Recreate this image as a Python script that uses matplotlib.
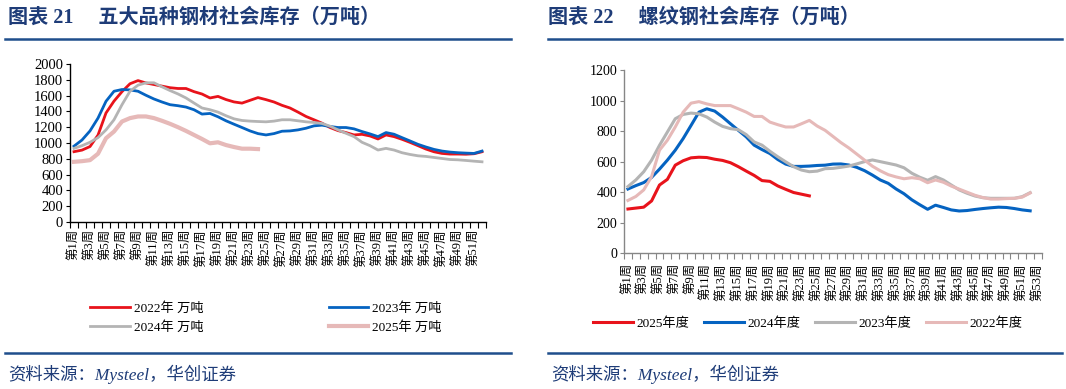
import numpy as np
import matplotlib.pyplot as plt
from matplotlib.lines import Line2D

plt.rcParams['font.family'] = ['Liberation Serif', 'Noto Sans CJK SC']

# ---- data: 五大品种钢材社会库存 (万吨), weekly
weeks_left = [f'第{i}周' for i in range(1, 53)]
steel_2022 = [890, 910, 955, 1100, 1380, 1530, 1650, 1750, 1790, 1760,
              1740, 1720, 1700, 1690, 1690, 1650, 1620, 1570, 1590, 1550,
              1520, 1505, 1540, 1575, 1549, 1519, 1477, 1443, 1391, 1336,
              1294, 1251, 1196, 1157, 1132, 1102, 1110, 1089, 1051, 1102,
              1081, 1047, 1008, 966, 923, 889, 868, 860, 860, 858, 864, 889]
steel_2023 = [960, 1038, 1153, 1315, 1528, 1655, 1677, 1672, 1655, 1604,
              1557, 1519, 1485, 1472, 1455, 1421, 1366, 1374, 1332, 1281,
              1238, 1196, 1153, 1119, 1102, 1119, 1149, 1153, 1166, 1187,
              1217, 1226, 1209, 1196, 1196, 1179, 1145, 1115, 1081, 1132,
              1111, 1068, 1026, 983, 949, 919, 898, 885, 877, 872, 868, 898]
steel_2024 = [932, 966, 1009, 1068, 1166, 1294, 1485, 1655, 1732, 1762,
              1762, 1711, 1664, 1621, 1570, 1506, 1443, 1421, 1391, 1345,
              1306, 1285, 1277, 1272, 1268, 1277, 1294, 1294, 1281, 1268,
              1260, 1247, 1213, 1166, 1123, 1081, 1009, 966, 911, 932,
              911, 877, 855, 838, 830, 817, 804, 791, 787, 779, 770, 762]
steel_2025 = [762, 770, 783, 864, 1060, 1145, 1272, 1315, 1336, 1336,
              1315, 1281, 1243, 1200, 1153, 1102, 1051, 996, 1009, 974,
              949, 928, 928, 923]

# ---- data: 螺纹钢社会库存 (万吨), weekly
weeks_right = [f'第{i}周' for i in range(1, 54)]
rebar_2025 = [290, 296, 302, 343, 447, 484, 577, 606, 625, 629,
              627, 616, 608, 593, 567, 538, 510, 476, 471, 441,
              419, 398, 387, 376]
rebar_2024 = [421, 443, 463, 497, 551, 610, 675, 751, 837, 924,
              946, 931, 892, 848, 805, 762, 708, 679, 653, 614,
              584, 569, 569, 571, 575, 577, 584, 585, 578, 563,
              541, 512, 480, 458, 421, 390, 350, 318, 288, 315,
              300, 284, 277, 280, 287, 293, 298, 302, 300, 293, 284, 278]
rebar_2023 = [437, 480, 534, 610, 707, 794, 881, 909, 918, 913,
              892, 859, 831, 816, 809, 777, 729, 708, 668, 632,
              599, 567, 545, 534, 538, 554, 556, 563, 571, 585,
              600, 611, 600, 589, 578, 560, 524, 498, 478, 502,
              480, 447, 415, 393, 375, 364, 360, 360, 360, 360, 371, 397]
rebar_2022 = [346, 372, 415, 502, 675, 740, 827, 924, 983, 993,
              978, 967, 967, 967, 946, 924, 896, 896, 859, 842,
              827, 827, 848, 870, 833, 805, 765, 725, 690, 650,
              610, 570, 540, 515, 500, 488, 495, 488, 462, 480,
              465, 440, 420, 400, 380, 365, 355, 355, 358, 360, 368, 395]

RED = '#E8131B'
BLUE = '#0563C1'
GRAY = '#B4B4B4'
PINK = '#E6B9B8'
NAVY = '#1E3C78'
W, H = 1066, 389

fig = plt.figure(figsize=(W / 100, H / 100), dpi=100)


def fx(px):
    return px / W


def fy(py):
    return 1 - py / H


def style_axis(ax, labels, ymax, spine_color, ysize, xpad):
    n = len(labels)
    ax.set_xlim(-0.5, n - 0.5)
    ax.set_ylim(0, ymax)
    ax.set_yticks(np.arange(0, ymax + 1, 200))
    ax.set_xticks(np.arange(0, n, 2))
    ax.set_xticklabels(labels[::2], rotation=90, fontsize=9)
    ax.set_xticks(np.arange(-0.5, n, 1), minor=True)
    ax.tick_params(axis='x', which='major', length=0, pad=xpad)
    ax.tick_params(axis='x', which='minor', length=4, width=0.8,
                   color=spine_color, direction='out')
    ax.tick_params(axis='y', length=3, width=0.8, color=spine_color,
                   labelsize=ysize, pad=2)
    for s in ['top', 'right']:
        ax.spines[s].set_visible(False)
    for s in ['left', 'bottom']:
        ax.spines[s].set_color(spine_color)
        ax.spines[s].set_linewidth(1.0)


# ---- left chart
ax1 = fig.add_axes([fx(70), fy(222), fx(416), 158 / H])
x = np.arange(len(weeks_left))
h22, = ax1.plot(x[:len(steel_2022)], steel_2022, color=RED, lw=2)
h23, = ax1.plot(x[:len(steel_2023)], steel_2023, color=BLUE, lw=2)
h24, = ax1.plot(x[:len(steel_2024)], steel_2024, color=GRAY, lw=2)
h25, = ax1.plot(x[:len(steel_2025)], steel_2025, color=PINK, lw=3)
style_axis(ax1, weeks_left, 2000, 'black', 10.5, 5)

fig.legend([h22, h24, h23, h25],
           ['2022年 万吨', '2024年 万吨', '2023年 万吨', '2025年 万吨'],
           ncol=2, loc='upper left', bbox_to_anchor=(fx(90), fy(302)),
           frameon=False, fontsize=9.5, handlelength=3.0, handletextpad=0.3,
           columnspacing=9.5, labelspacing=0.5, borderpad=0,
           borderaxespad=0)

# ---- right chart
ax2 = fig.add_axes([fx(624), fy(253.3), fx(418), 183.3 / H])
x2 = np.arange(len(weeks_right))
r25, = ax2.plot(x2[:len(rebar_2025)], rebar_2025, color=RED, lw=2.2)
r24, = ax2.plot(x2[:len(rebar_2024)], rebar_2024, color=BLUE, lw=2.2)
r23, = ax2.plot(x2[:len(rebar_2023)], rebar_2023, color=GRAY, lw=2.2)
r22, = ax2.plot(x2[:len(rebar_2022)], rebar_2022, color=PINK, lw=2.2)
style_axis(ax2, weeks_right, 1200, '#868686', 10, 7)

fig.legend([r25, r24, r23, r22], ['2025年度', '2024年度', '2023年度', '2022年度'],
           ncol=4, loc='upper left', bbox_to_anchor=(fx(593), fy(317)),
           frameon=False, fontsize=9.5, handlelength=3.0, handletextpad=0.3,
           columnspacing=1.1, borderpad=0, borderaxespad=0)

# ---- titles, rules and sources
title_font = dict(fontsize=14.5, fontweight='bold', color=NAVY, va='center')
fig.text(fx(8), fy(18), '图表 21     五大品种钢材社会库存（万吨）', **title_font)
fig.text(fx(548), fy(18), '图表 22     螺纹钢社会库存（万吨）', **title_font)

for x0, x1 in [(5, 511), (548, 1062)]:
    fig.add_artist(Line2D([fx(x0), fx(x1)], [fy(38.5), fy(38.5)],
                          color='#1F4E8C', lw=1.8))
    fig.add_artist(Line2D([fx(x0), fx(x1)], [fy(353), fy(353)],
                          color='#1F4E8C', lw=1.8))

src_font = dict(fontsize=12.5, style='italic', color=NAVY, va='center')
fig.text(fx(8), fy(374), '资料来源：Mysteel，华创证券', **src_font)
fig.text(fx(551), fy(374), '资料来源：Mysteel，华创证券', **src_font)

fig.savefig('out.png', dpi=100)
